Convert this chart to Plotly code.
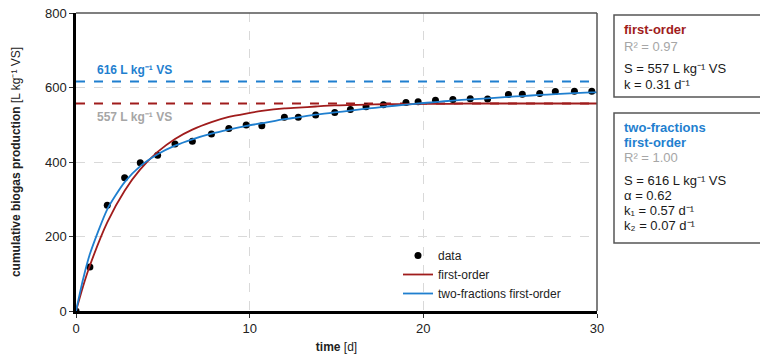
import plotly.graph_objects as go

# ---- data ----
t_data = [0, 0.8, 1.8, 2.8, 3.7, 4.7, 5.7, 6.7, 7.8, 8.8, 9.8, 10.7, 12.0, 12.8, 13.8,
          14.9, 15.8, 16.7, 17.7, 19.0, 19.7, 20.7, 21.7, 22.7, 23.7, 24.9, 25.7, 26.7,
          27.6, 28.7, 29.7]
y_data = [0, 118, 284, 358, 398, 418, 448, 456, 475, 490, 499, 497, 520, 520, 526,
          533, 541, 548, 554, 560, 562, 566, 568, 570, 569, 581, 582, 584,
          589, 590, 590]

t_model = [0, 0.4, 0.8, 1.8, 2.8, 3.7, 4.7, 5.7, 6.7, 7.8, 8.8, 9.8, 10.7, 12.0, 12.8, 13.8,
           14.9, 15.8, 16.7, 17.7, 19.0, 19.7, 20.7, 21.7, 22.7, 23.7, 24.9, 25.7, 26.7,
           27.6, 28.7, 29.7, 30]
y_first = [0, 65, 122, 238, 323, 380, 427, 462, 487, 507, 521, 530, 537, 544, 546, 549,
           552, 553, 554, 555, 555, 556, 556, 556, 557, 557, 557, 557, 557,
           557, 557, 557, 557]
y_two = [0, 84, 153, 273, 346, 389, 421, 444, 461, 476, 487, 497, 504, 515, 520, 527,
         533, 538, 543, 548, 554, 557, 561, 565, 568, 571, 575, 577, 580,
         582, 585, 587, 587]

S_first = 557
S_two = 616
x_range = [0, 30]

RED = "#a01c1c"
BLUE = "#1f7fcf"
GRAY = "#a6a6a6"
FONT = "Liberation Sans, Arial, sans-serif"

fig = go.Figure()

fig.add_trace(go.Scatter(x=x_range, y=[S_two, S_two], mode="lines",
                         line=dict(color=BLUE, width=2, dash="dash"),
                         showlegend=False, hoverinfo="skip"))
fig.add_trace(go.Scatter(x=x_range, y=[S_first, S_first], mode="lines",
                         line=dict(color=RED, width=2, dash="dash"),
                         showlegend=False, hoverinfo="skip"))

fig.add_trace(go.Scatter(x=t_data, y=y_data, mode="markers", name="data",
                         marker=dict(color="black", size=7)))
fig.add_trace(go.Scatter(x=t_model, y=y_first, mode="lines", name="first-order",
                         line=dict(color=RED, width=1.8, shape="spline", smoothing=0.6)))
fig.add_trace(go.Scatter(x=t_model, y=y_two, mode="lines", name="two-fractions first-order",
                         line=dict(color=BLUE, width=1.8, shape="spline", smoothing=0.6)))

# page offset (browser body margin) and plot-area geometry in page pixels
OFF = 8
W, H = 768 - OFF, 354 - OFF
L, R, T, B = 76, 597, 13, 311
def px(x):
    return (x - L) / (R - L)
def py(y):
    return (B - y) / (B - T)

shapes = [
    dict(type="line", xref="paper", yref="paper", x0=0, x1=1, y0=1, y1=1,
         line=dict(color="#555555", width=1.5)),
    dict(type="line", xref="paper", yref="paper", x0=1, x1=1, y0=0, y1=1,
         line=dict(color="#555555", width=1.5)),
    dict(type="rect", xref="paper", yref="paper", x0=px(614), x1=px(800), y0=py(97), y1=py(15),
         line=dict(color="#555555", width=1.5), fillcolor="white", layer="above"),
    dict(type="rect", xref="paper", yref="paper", x0=px(614), x1=px(800), y0=py(243), y1=py(113),
         line=dict(color="#555555", width=1.5), fillcolor="white", layer="above"),
]

annotations = []
def txt(x, y, s, color="#1a1a1a", size=13):
    annotations.append(dict(xref="paper", yref="paper", x=px(x), y=py(y), text=s,
                            showarrow=False, xanchor="left", yanchor="middle",
                            font=dict(family=FONT, size=size, color=color)))

txt(622, 30, "<b>first-order</b>", RED)
txt(622, 46, "R² = 0.97", GRAY)
txt(622, 69, "S = 557 L kg⁻¹ VS")
txt(622, 84, "k = 0.31 d⁻¹")

txt(622, 127, "<b>two-fractions</b>", BLUE)
txt(622, 142, "<b>first-order</b>", BLUE)
txt(622, 157, "R² = 1.00", GRAY)
txt(622, 180, "S = 616 L kg⁻¹ VS")
txt(622, 195, "α = 0.62")
txt(622, 210, "k₁ = 0.57 d⁻¹")
txt(622, 225, "k₂ = 0.07 d⁻¹")

annotations.append(dict(x=1.1, y=S_two + 30, xref="x", yref="y", text="<b>616 L kg⁻¹ VS</b>",
                        showarrow=False, xanchor="left", yanchor="middle",
                        font=dict(family=FONT, size=12, color=BLUE)))
annotations.append(dict(x=1.1, y=S_first - 37, xref="x", yref="y", text="<b>557 L kg⁻¹ VS</b>",
                        showarrow=False, xanchor="left", yanchor="middle",
                        font=dict(family=FONT, size=12, color=GRAY)))

fig.update_layout(
    width=W, height=H,
    margin=dict(l=L - OFF, r=768 - R, t=T - OFF, b=354 - B, autoexpand=False),
    paper_bgcolor="white", plot_bgcolor="white",
    font=dict(family=FONT, size=12, color="#222222"),
    shapes=shapes, annotations=annotations,
    legend=dict(x=px(398), y=py(241), xanchor="left", yanchor="top",
                bgcolor="rgba(0,0,0,0)", font=dict(size=12, color="#222222"),
                tracegroupgap=0, itemwidth=30),
    xaxis=dict(range=x_range, dtick=10, showline=True, linecolor="black", linewidth=2.5,
               ticks="outside", ticklen=4, tickcolor="#333", showgrid=True, automargin=False,
               gridcolor="#d9d9d9", griddash="dash", gridwidth=1, zeroline=False,
               ticklabeloverflow="allow",
               tickfont=dict(size=13, color="#222222"),
               title=dict(text="<b>time</b> [d]", font=dict(size=12, color="#222222"), standoff=8)),
    yaxis=dict(range=[0, 800], dtick=200, showline=True, linecolor="black", linewidth=2.5,
               ticks="outside", ticklen=4, tickcolor="#333", showgrid=True, automargin=False,
               gridcolor="#d9d9d9", griddash="dash", gridwidth=1, zeroline=False,
               ticklabeloverflow="allow",
               tickfont=dict(size=13, color="#222222"),
               title=dict(text="<b>cumulative biogas production</b> [L kg⁻¹ VS]",
                          font=dict(size=12, color="#222222"), standoff=22)),
)

fig.write_html("out.html")
